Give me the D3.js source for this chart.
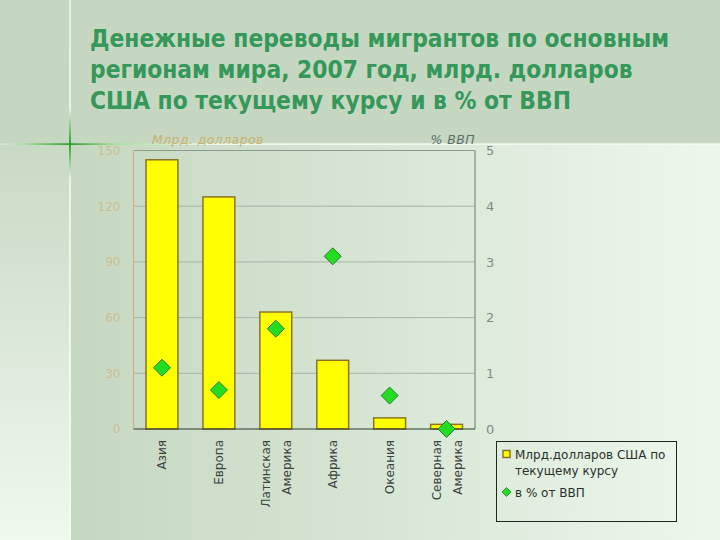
<!DOCTYPE html>
<html><head><meta charset="utf-8">
<script src="https://cdn.jsdelivr.net/npm/d3@7"></script>
<style>body{margin:0;padding:0;overflow:hidden;background:#c5d7c1}</style>
</head><body>
<script>
const categories = ["Азия","Европа","Латинская Америка","Африка","Океания","Северная Америка"];
const remittances = [145, 125, 63, 37, 6, 2.5];     // млрд. долларов США
const gdpShare = [1.1, 0.7, 1.8, 3.1, 0.6, 0.0];      // % от ВВП
const leftTicks = [0, 30, 60, 90, 120, 150];
const rightTicks = [0, 1, 2, 3, 4, 5];
const titleLines = ["Денежные переводы мигрантов по основным","регионам мира, 2007 год, млрд. долларов","США по текущему курсу и в % от ВВП"];
const legendItems = [["Млрд.долларов США по","текущему курсу"],["в % от ВВП"]];

(function(){
const W = 720, H = 540;
const svg = d3.select("body").append("svg").attr("width", W).attr("height", H);
const defs = svg.append("defs");

const gMain = defs.append("linearGradient").attr("id","gMain").attr("x1","0").attr("x2","1").attr("y1","0").attr("y2","0");
gMain.append("stop").attr("offset","0").attr("stop-color","#c5d7c1");
gMain.append("stop").attr("offset","0.45").attr("stop-color","#d6e5d3");
gMain.append("stop").attr("offset","1").attr("stop-color","#edf8ec");
const gLeft = defs.append("linearGradient").attr("id","gLeft").attr("x1","0").attr("x2","0").attr("y1","0").attr("y2","1");
gLeft.append("stop").attr("offset","0").attr("stop-color","#c8d9c4");
gLeft.append("stop").attr("offset","1").attr("stop-color","#eff9ee");
const gH = defs.append("linearGradient").attr("id","gH").attr("x1","0").attr("x2","1").attr("y1","0").attr("y2","0");
gH.append("stop").attr("offset","0").attr("stop-color","#e6f2e2").attr("stop-opacity",0.6);
gH.append("stop").attr("offset","0.04").attr("stop-color","#9ad890");
gH.append("stop").attr("offset","0.097").attr("stop-color","#1f9a1f");
gH.append("stop").attr("offset","0.16").attr("stop-color","#a6e09c");
gH.append("stop").attr("offset","0.3").attr("stop-color","#f2faf0");
gH.append("stop").attr("offset","1").attr("stop-color","#f4fbf2");
const gV = defs.append("linearGradient").attr("id","gV").attr("x1","0").attr("x2","0").attr("y1","0").attr("y2","1");
gV.append("stop").attr("offset","0").attr("stop-color","#e4f0e0");
gV.append("stop").attr("offset","0.2").attr("stop-color","#e8f4e4");
gV.append("stop").attr("offset","0.267").attr("stop-color","#2aa02a");
gV.append("stop").attr("offset","0.33").attr("stop-color","#e8f4e4");
gV.append("stop").attr("offset","1").attr("stop-color","#f4fbf2");

svg.append("rect").attr("x",0).attr("y",0).attr("width",W).attr("height",144).attr("fill","#c5d7c1");
svg.append("rect").attr("x",70).attr("y",144).attr("width",W-70).attr("height",H-144).attr("fill","url(#gMain)");
svg.append("rect").attr("x",0).attr("y",144).attr("width",70).attr("height",H-144).attr("fill","url(#gLeft)");

svg.append("g").selectAll("text").data(titleLines).join("text")
  .attr("x", 90).attr("y", (d,i)=>47 + i*31)
  .attr("font-family","'DejaVu Sans Condensed','DejaVu Sans',sans-serif")
  .attr("font-stretch","condensed")
  .attr("font-weight","bold").attr("font-size",24.3)
  .attr("fill","#35975a").text(d=>d);

const pL = 133.5, pR = 475, pT = 150.5, pB = 429;
const x = d3.scaleBand().domain(categories).range([pL, pR]).paddingInner(0.44).paddingOuter(0.22);
const yL = d3.scaleLinear().domain([0,150]).range([pB, pT]);
const yR = d3.scaleLinear().domain([0,5]).range([pB, pT]);

svg.append("rect").attr("x",0).attr("y",143.3).attr("width",W).attr("height",1.6).attr("fill","url(#gH)");
svg.append("rect").attr("x",69).attr("y",0).attr("width",2).attr("height",H).attr("fill","url(#gV)");

svg.append("text").attr("x",152).attr("y",144).attr("font-family","'DejaVu Sans',sans-serif")
  .attr("font-style","italic").attr("font-size",12.5).attr("letter-spacing",0.4)
  .attr("fill","#c9b36c").text("Млрд. долларов");
svg.append("text").attr("x",475).attr("y",144).attr("text-anchor","end").attr("font-family","'DejaVu Sans',sans-serif")
  .attr("font-style","italic").attr("font-size",12.5).attr("letter-spacing",0.4)
  .attr("fill","#5f6f66").text("% ВВП");

svg.append("g").selectAll("line").data(leftTicks.filter(t=>t>0 && t<150)).join("line")
  .attr("x1",pL).attr("x2",pR).attr("y1",d=>yL(d)).attr("y2",d=>yL(d))
  .attr("stroke","#a9b3a9").attr("stroke-width",1);

svg.append("line").attr("x1",pL).attr("x2",pR).attr("y1",pT).attr("y2",pT).attr("stroke","#8c9c8c");
svg.append("line").attr("x1",pR).attr("x2",pR).attr("y1",pT).attr("y2",pB).attr("stroke","#6a7a6c");
svg.append("line").attr("x1",pL).attr("x2",pL).attr("y1",pT).attr("y2",pB).attr("stroke","#c9b684").attr("stroke-width",1.2);

const axL = svg.append("g").attr("transform",`translate(${pL},0)`)
  .call(d3.axisLeft(yL).tickValues(leftTicks).tickSize(0).tickPadding(13).tickFormat(d3.format("d")));
axL.select(".domain").remove();
axL.selectAll("text").attr("font-family","'DejaVu Sans',sans-serif").attr("font-size",12).attr("fill","#cbbd92");
const axR = svg.append("g").attr("transform",`translate(${pR},0)`)
  .call(d3.axisRight(yR).tickValues(rightTicks).tickSize(0).tickPadding(11).tickFormat(d3.format("d")));
axR.select(".domain").remove();
axR.selectAll("text").attr("font-family","'DejaVu Sans',sans-serif").attr("font-size",13).attr("fill","#7f8c87");

svg.append("g").selectAll("rect").data(remittances).join("rect")
  .attr("x",(d,i)=>x(categories[i])).attr("width",x.bandwidth())
  .attr("y",d=>yL(d)).attr("height",d=>pB-yL(d))
  .attr("fill","#ffff00").attr("stroke","#8a7424").attr("stroke-width",1.5);

svg.append("line").attr("x1",pL).attr("x2",pR).attr("y1",pB).attr("y2",pB).attr("stroke","#2c3a2c").attr("stroke-width",1.2);

const dia = r => `M0,${-r}L${r},0L0,${r}L${-r},0Z`;
svg.append("g").selectAll("path").data(gdpShare).join("path")
  .attr("transform",(d,i)=>`translate(${x(categories[i])+x.bandwidth()/2},${yR(d)})`)
  .attr("d",dia(8.5)).attr("fill","#22dd22").attr("stroke","#2f7a2f").attr("stroke-width",1);

const catG = svg.append("g");
categories.forEach((c,i)=>{
  const lines = c.split(" ");
  const cx = x(c)+x.bandwidth()/2;
  lines.forEach((ln,j)=>{
    const off = (j - (lines.length-1)/2)*21;
    catG.append("text")
      .attr("transform",`translate(${cx+off+4.5},${440}) rotate(-90)`)
      .attr("text-anchor","end")
      .attr("font-family","'DejaVu Sans',sans-serif").attr("font-size",12)
      .attr("fill","#3c423e").text(ln);
  });
});

const lg = svg.append("g");
lg.append("rect").attr("x",496.5).attr("y",441.5).attr("width",180).attr("height",80)
  .attr("fill","none").attr("stroke","#1e2a1e").attr("stroke-width",1);
lg.append("rect").attr("x",503).attr("y",450.5).attr("width",7).attr("height",7)
  .attr("fill","#ffff00").attr("stroke","#8a7424").attr("stroke-width",1.5);
lg.append("path").attr("transform","translate(506.5,492)").attr("d",dia(4.5))
  .attr("fill","#22dd22").attr("stroke","#2f7a2f").attr("stroke-width",0.8);
legendItems[0].forEach((t,j)=>{
  lg.append("text").attr("x",515).attr("y",458.5+j*16).attr("font-family","'DejaVu Sans',sans-serif")
    .attr("font-size",12).attr("fill","#2a302c").text(t);
});
lg.append("text").attr("x",515).attr("y",496.5).attr("font-family","'DejaVu Sans',sans-serif")
  .attr("font-size",12).attr("fill","#2a302c").text(legendItems[1][0]);
})();
</script>
</body></html>
